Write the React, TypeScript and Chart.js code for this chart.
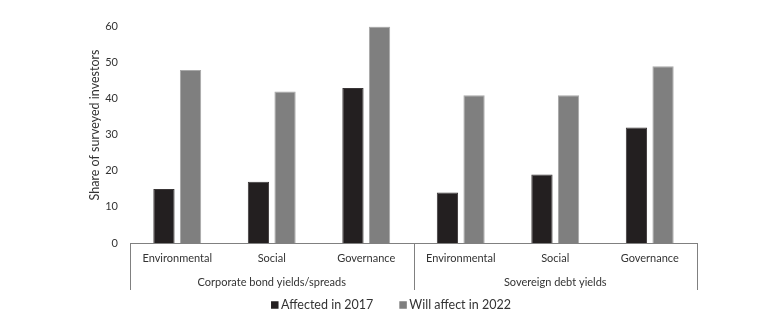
import React, { useEffect, useRef } from "react";
import { Chart, registerables } from "chart.js";

Chart.register(...registerables);

const categories = ["Environmental", "Social", "Governance", "Environmental", "Social", "Governance"];
const groups = ["Corporate bond yields/spreads", "Sovereign debt yields"];
const groupSize = 3;
const affected2017 = [15, 17, 43, 14, 19, 32];
const willAffect2022 = [48, 42, 60, 41, 41, 49];
const seriesLabels = ["Affected in 2017", "Will affect in 2022"];
const yTitle = "Share of surveyed investors";

const FONT = "Lato";
const TEXT = "#333333";

const decorPlugin = {
  id: "decor",
  afterDraw(chart: any) {
    const { ctx, chartArea } = chart;
    const x = chart.scales.x;
    ctx.save();
    // separator lines
    ctx.strokeStyle = "#808080";
    ctx.lineWidth = 1;
    const bottomY = chartArea.bottom + 47;
    for (let g = 0; g <= groups.length; g++) {
      const px = Math.round(x.getPixelForValue(g * groupSize - 0.5)) + 0.5;
      ctx.beginPath();
      ctx.moveTo(px, chartArea.bottom);
      ctx.lineTo(px, bottomY);
      ctx.stroke();
    }
    // group labels
    ctx.fillStyle = TEXT;
    ctx.font = `11px ${FONT}`;
    ctx.textAlign = "center";
    ctx.textBaseline = "middle";
    groups.forEach((g, i) => {
      const cx = x.getPixelForValue(i * groupSize + (groupSize - 1) / 2);
      ctx.fillText(g, cx, chartArea.bottom + 39);
    });
    // y title
    ctx.save();
    ctx.translate(87, 117);
    ctx.rotate(-Math.PI / 2);
    ctx.font = `12.5px ${FONT}`;
    ctx.fillText(yTitle, 0, 0);
    ctx.restore();
    // legend
    ctx.font = `12.5px ${FONT}`;
    ctx.textAlign = "left";
    const box = 7.5;
    const gapBox = 2.5;
    const gapItem = 26;
    const widths = chart.data.datasets.map((d: any) => ctx.measureText(d.label).width);
    const total = widths.reduce((a: number, w: number) => a + box + gapBox + w, 0) + gapItem * (widths.length - 1);
    let lx = chart.width / 2 - total / 2;
    const ly = 297;
    chart.data.datasets.forEach((d: any, i: number) => {
      ctx.fillStyle = d.backgroundColor;
      ctx.fillRect(lx, ly - box / 2, box, box);
      lx += box + gapBox;
      ctx.fillStyle = TEXT;
      ctx.fillText(d.label, lx, ly);
      lx += widths[i] + gapItem;
    });
    ctx.restore();
  },
};

export default function App() {
  const ref = useRef<HTMLCanvasElement>(null);
  useEffect(() => {
    const chart = new Chart(ref.current!, {
      type: "bar",
      data: {
        labels: categories,
        datasets: [
          {
            label: seriesLabels[0],
            data: affected2017,
            backgroundColor: "#231f20",
            borderColor: "#3a3637",
            borderWidth: 1,
          },
          {
            label: seriesLabels[1],
            data: willAffect2022,
            backgroundColor: "#7f7f7f",
            borderColor: "#a8a8a8",
            borderWidth: 1,
          },
        ],
      },
      options: {
        animation: false,
        responsive: false,
        maintainAspectRatio: false,
        datasets: { bar: { barPercentage: 0.8, categoryPercentage: 0.563 } },
        layout: { padding: { top: 16, right: 77, bottom: 0, left: 0 } },
        plugins: { legend: { display: false }, tooltip: { enabled: false } },
        scales: {
          x: {
            grid: { display: false, drawTicks: false },
            border: { display: true, color: "#808080", width: 1 },
            ticks: { color: TEXT, font: { family: FONT, size: 11 }, padding: 9, maxRotation: 0, autoSkip: false },
            afterFit: (s: any) => { s.height = 73; },
          },
          y: {
            min: 0,
            max: 60,
            grid: { display: false, drawTicks: false },
            border: { display: false },
            ticks: { stepSize: 10, color: TEXT, font: { family: FONT, size: 11 }, padding: 12 },
            afterFit: (s: any) => { s.width = 122; },
          },
        },
      },
      plugins: [decorPlugin],
    });
    return () => chart.destroy();
  }, []);
  return <canvas ref={ref} width={766} height={308} style={{ display: "block" }} />;
}
